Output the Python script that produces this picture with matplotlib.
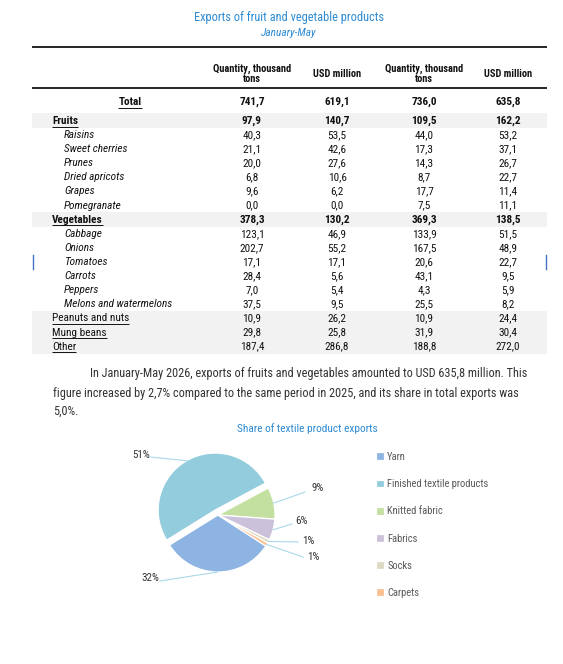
import matplotlib
matplotlib.use('Agg')
import matplotlib.pyplot as plt
from matplotlib import font_manager
from matplotlib.patches import Rectangle
import numpy as np

names = {f.name for f in font_manager.fontManager.ttflist}
FONT = next((n for n in ['Roboto Condensed', 'Liberation Sans Narrow', 'Arial Narrow', 'Roboto']
             if n in names), 'DejaVu Sans')
plt.rcParams['font.family'] = [FONT, 'DejaVu Sans']

# ---------------- data ----------------
title = "Exports of fruit and vegetable products"
subtitle = "January-May"
col_headers = ["Quantity, thousand\ntons", "USD million", "Quantity, thousand\ntons", "USD million"]
row_labels = ["Total", "Fruits", "Raisins", "Sweet cherries", "Prunes", "Dried apricots", "Grapes",
              "Pomegranate", "Vegetables", "Cabbage", "Onions", "Tomatoes", "Carrots", "Peppers",
              "Melons and watermelons", "Peanuts and nuts", "Mung beans", "Other"]
row_kind = ["total", "group", "item", "item", "item", "item", "item", "item", "group",
            "item", "item", "item", "item", "item", "item", "other", "other", "other"]
qty_2025 = [741.7, 97.9, 40.3, 21.1, 20.0, 6.8, 9.6, 0.0, 378.3, 123.1, 202.7, 17.1, 28.4, 7.0, 37.5, 10.9, 29.8, 187.4]
usd_2025 = [619.1, 140.7, 53.5, 42.6, 27.6, 10.6, 6.2, 0.0, 130.2, 46.9, 55.2, 17.1, 5.6, 5.4, 9.5, 26.2, 25.8, 286.8]
qty_2026 = [736.0, 109.5, 44.0, 17.3, 14.3, 8.7, 17.7, 7.5, 369.3, 133.9, 167.5, 20.6, 43.1, 4.3, 25.5, 10.9, 31.9, 188.8]
usd_2026 = [635.8, 162.2, 53.2, 37.1, 26.7, 22.7, 11.4, 11.1, 138.5, 51.5, 48.9, 22.7, 9.5, 5.9, 8.2, 24.4, 30.4, 272.0]

paragraph = ["In January-May 2026, exports of fruits and vegetables amounted to USD 635,8 million. This",
             "figure increased by 2,7% compared to the same period in 2025, and its share in total exports was",
             "5,0%."]

pie_title = "Share of textile product exports"
pie_labels = ["Yarn", "Finished textile products", "Knitted fabric", "Fabrics", "Socks", "Carpets"]
pie_shares = [32, 51, 9, 6, 1, 1]
pie_colors = ["#8EB4E3", "#93CDDD", "#C4E0A0", "#CCC1DA", "#DDD9C3", "#FAC090"]

# ---------------- layout ----------------
W, H = 563, 664
BLUE = "#2E8BD3"
TXT = "#111111"
FS = 8.1
fig = plt.figure(figsize=(W / 100, H / 100), dpi=100)
ax = fig.add_axes([0, 0, 1, 1])
ax.set_xlim(0, W)
ax.set_ylim(H, 0)
ax.axis('off')

ax.text(289, 17, title, ha='center', va='center', fontsize=8.9, color=BLUE)
ax.text(289, 33, subtitle, ha='center', va='center', fontsize=8.2, color=BLUE, style='italic')

TL, TR = 32, 547
ax.plot([TL, TR], [47, 47], color='#262626', lw=1.4, solid_capstyle='butt')
ax.plot([TL, TR], [88, 88], color='#262626', lw=1.4, solid_capstyle='butt')

col_x = [252, 337, 424, 508]
for x, h in zip(col_x, col_headers):
    ax.text(x, 74, h, ha='center', va='center', fontsize=7.5, fontweight='bold',
            color=TXT, linespacing=1.05)

row_y = [102] + [121 + 14.1 * i for i in range(len(row_labels) - 1)]

# grey bands
def band(i0, i1):
    ax.add_patch(Rectangle((TL, row_y[i0] - 7.8), TR - TL, row_y[i1] - row_y[i0] + 15.2,
                           facecolor='#F2F2F2', edgecolor='none', zorder=0))
band(1, 1)
band(8, 8)
band(15, 17)

fmt = lambda v: f"{v:.1f}".replace('.', ',')
under = []
for i, (lab, kind) in enumerate(zip(row_labels, row_kind)):
    y = row_y[i]
    bold = kind in ('total', 'group')
    if kind == 'total':
        t = ax.text(130, y, lab, ha='center', va='center', fontsize=FS, fontweight='bold', color=TXT)
        under.append(t)
    elif kind == 'group':
        t = ax.text(52, y, lab, ha='left', va='center', fontsize=FS, fontweight='bold', color=TXT)
        under.append(t)
    elif kind == 'other':
        t = ax.text(52, y, lab, ha='left', va='center', fontsize=FS, color=TXT)
        under.append(t)
    else:
        ax.text(64, y, lab, ha='left', va='center', fontsize=FS, style='italic', color=TXT)
    for x, arr in zip(col_x, [qty_2025, usd_2025, qty_2026, usd_2026]):
        ax.text(x, y, fmt(arr[i]), ha='center', va='center', fontsize=FS,
                fontweight='bold' if bold else 'normal', color=TXT)

# blue cursor marks
ax.plot([33, 33], [255, 269], color='#4472C4', lw=1)
ax.plot([546, 546], [255, 269], color='#4472C4', lw=1)

# paragraph
PFS = 8.85
ax.text(90, 374, paragraph[0], ha='left', va='center', fontsize=PFS, color='#333333')
ax.text(53, 393, paragraph[1], ha='left', va='center', fontsize=PFS, color='#333333')
ax.text(53, 411, paragraph[2], ha='left', va='center', fontsize=PFS, color='#333333')
ax.text(307, 429, pie_title, ha='center', va='center', fontsize=8.2, color=BLUE)

# ---------------- pie ----------------
cx, cy, r = 218, 515, 57
pax = fig.add_axes([(cx - r) / W, (H - cy - r) / H, 2 * r / W, 2 * r / H])
wedges, _ = pax.pie(pie_shares, colors=pie_colors, startangle=-33, counterclock=False,
                    explode=[0, 0.1, 0, 0, 0, 0],
                    wedgeprops=dict(edgecolor='white', linewidth=0.9))
pax.set_xlim(-1, 1)
pax.set_ylim(-1, 1)
pax.set_aspect('equal')
pax.axis('off')

# label positions (pixels) and leader-line ends
lab_pos = [(150, 578), (141, 455), (318, 488), (301, 521), (308, 541), (313, 557)]
line_end = [(160, 581), (150, 457), (305, 492), (292, 524), (298, 542), (303, 557)]
to_pie = lambda p: ((p[0] - cx) / r, (cy - p[1]) / r)
for w, s, lp, le in zip(wedges, pie_shares, lab_pos, line_end):
    mid = np.deg2rad((w.theta1 + w.theta2) / 2)
    ex = w.center[0] + w.r * np.cos(mid)
    ey = w.center[1] + w.r * np.sin(mid)
    lx, ly = to_pie(le)
    pax.plot([ex, lx], [ey, ly], color='#A9D9EA', lw=0.8, clip_on=False)
    tx, ty = to_pie(lp)
    pax.text(tx, ty, f"{s}%", ha='center', va='center', fontsize=7.9, color='#333333', clip_on=False)

LFS = 7.6
fig.legend(wedges, pie_labels, loc='upper left', bbox_to_anchor=(376 / W, 1 - 452 / H),
           frameon=False, fontsize=LFS, handlelength=0.75, handleheight=0.75, handletextpad=0.3,
           labelspacing=1.63, borderaxespad=0, borderpad=0, labelcolor='#595959')

# underlines
fig.canvas.draw()
inv = ax.transData.inverted()
for t in under:
    bb = t.get_window_extent()
    (x0, _), (x1, _) = inv.transform([(bb.x0, bb.y0), (bb.x1, bb.y0)])
    y = t.get_position()[1] + 5.5
    ax.plot([x0, x1], [y, y], color=TXT, lw=0.7, solid_capstyle='butt')

fig.savefig('out.png', dpi=100)
